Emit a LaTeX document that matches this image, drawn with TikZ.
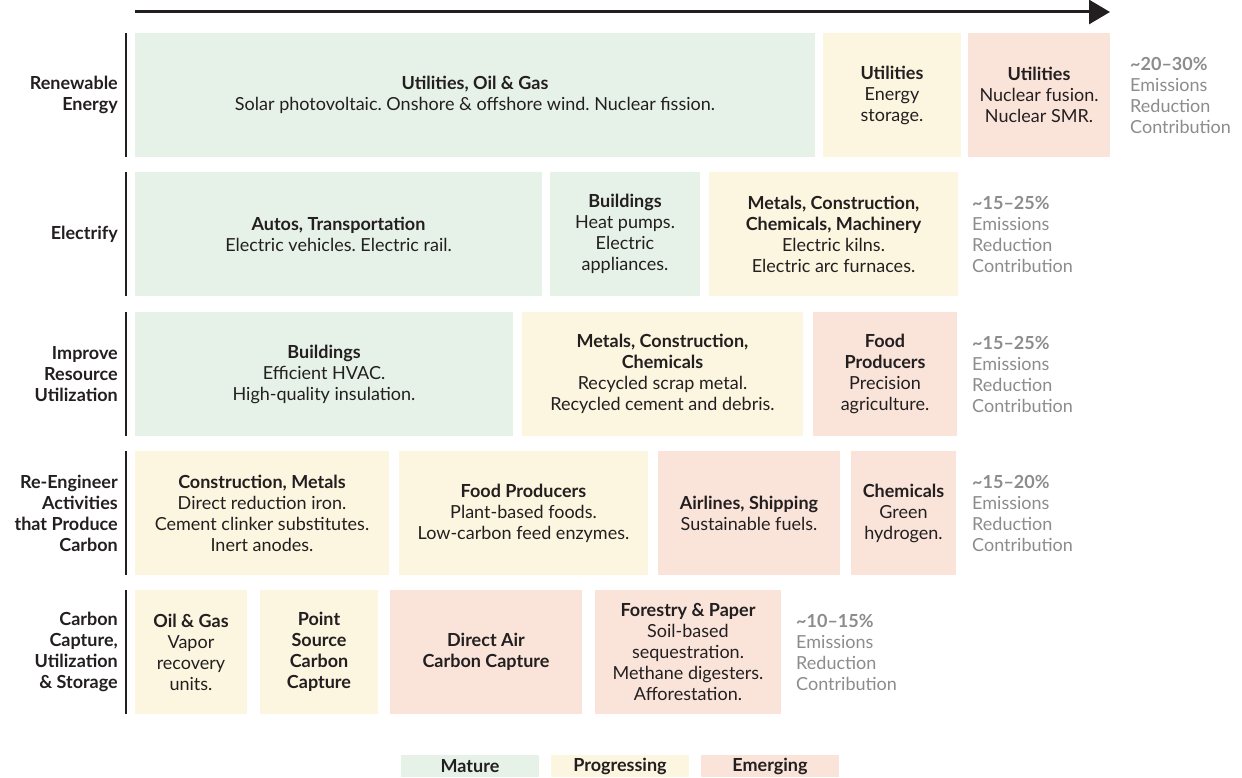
\documentclass[tikz,border=0pt]{standalone}
\usepackage{fontspec}
\setmainfont{Lato}
\frenchspacing
\usetikzlibrary{positioning,arrows.meta}

\definecolor{mature}{HTML}{E6F2E7}
\definecolor{progressing}{HTML}{FCF5DF}
\definecolor{emerging}{HTML}{FAE4DA}
\definecolor{ink}{HTML}{231F20}
\definecolor{muted}{HTML}{8C8C8C}

\begin{document}
\begin{tikzpicture}[x=1pt, y=-1pt,
		cell/.style={rectangle, minimum height=124pt, inner sep=0pt, outer sep=0pt, align=center, text=ink, font=\fontsize{18}{21}\selectfont},
		mat/.style={cell, fill=mature},
		pro/.style={cell, fill=progressing},
		emg/.style={cell, fill=emerging},
		rowlabel/.style={rectangle, inner sep=0pt, align=right, text=ink, font=\bfseries\fontsize{18}{21}\selectfont},
		share/.style={rectangle, inner sep=0pt, align=left, text=muted, font=\fontsize{18}{21}\selectfont},
		bar/.style={draw=ink, line width=2.6pt},
		key/.style={rectangle, minimum width=138pt, minimum height=22pt, inner sep=0pt, outer sep=0pt, text=ink, font=\bfseries\fontsize{18}{21}\selectfont}
	]
	\useasboundingbox (0,0) rectangle (1242,778);

	% timeline arrow
	\coordinate (tstart) at (135,12);
	\coordinate (tend) at (1110,12);
	\draw[draw=ink, line width=3pt, -{Triangle[length=21pt,width=24pt]}] (tstart) -- (tend);

	% renewable energy
	\node[mat, minimum width=680pt, anchor=north west] (ren1) at (135,33) {\textbf{Utilities, Oil \& Gas}\\Solar photovoltaic. Onshore \& offshore wind. Nuclear fission.};
	\node[pro, minimum width=138pt] (ren2) [right=8pt of ren1] {\textbf{Utilities}\\Energy\\storage.};
	\node[emg, minimum width=142pt] (ren3) [right=7pt of ren2] {\textbf{Utilities}\\Nuclear fusion.\\Nuclear SMR.};
	\node[rowlabel] (lren) [left=17pt of ren1] {Renewable\\Energy};
	\node[share] (sren) [right=20pt of ren3] {\textbf{\textasciitilde20--30\%}\\Emissions\\Reduction\\Contribution};

	% electrify
	\node[mat, minimum width=407pt, anchor=north west] (ele1) at (135,172) {\textbf{Autos, Transportation}\\Electric vehicles. Electric rail.};
	\node[mat, minimum width=150pt] (ele2) [right=8pt of ele1] {\textbf{Buildings}\\Heat pumps.\\Electric\\appliances.};
	\node[pro, minimum width=249pt] (ele3) [right=9pt of ele2] {\textbf{Metals, Construction,}\\\textbf{Chemicals, Machinery}\\Electric kilns.\\Electric arc furnaces.};
	\node[rowlabel] (lele) [left=17pt of ele1] {Electrify};
	\node[share] (sele) [right=14pt of ele3] {\textbf{\textasciitilde15--25\%}\\Emissions\\Reduction\\Contribution};

	% improve resource utilization
	\node[mat, minimum width=378pt, anchor=north west] (imp1) at (135,312) {\textbf{Buildings}\\Efficient HVAC.\\High-quality insulation.};
	\node[pro, minimum width=281pt] (imp2) [right=9pt of imp1] {\textbf{Metals, Construction,}\\\textbf{Chemicals}\\Recycled scrap metal.\\Recycled cement and debris.};
	\node[emg, minimum width=144pt] (imp3) [right=10pt of imp2] {\textbf{Food}\\\textbf{Producers}\\Precision\\agriculture.};
	\node[rowlabel] (limp) [left=17pt of imp1] {Improve\\Resource\\Utilization};
	\node[share] (simp) [right=15pt of imp3] {\textbf{\textasciitilde15--25\%}\\Emissions\\Reduction\\Contribution};

	% re-engineer activities
	\node[pro, minimum width=254pt, anchor=north west] (reg1) at (135,451) {\textbf{Construction, Metals}\\Direct reduction iron.\\Cement clinker substitutes.\\Inert anodes.};
	\node[pro, minimum width=249pt] (reg2) [right=10pt of reg1] {\textbf{Food Producers}\\Plant-based foods.\\Low-carbon feed enzymes.};
	\node[emg, minimum width=182pt] (reg3) [right=10pt of reg2] {\textbf{Airlines, Shipping}\\Sustainable fuels.};
	\node[emg, minimum width=105pt] (reg4) [right=11pt of reg3] {\textbf{Chemicals}\\Green\\hydrogen.};
	\node[rowlabel] (lreg) [left=17pt of reg1] {Re-Engineer\\Activities\\that Produce\\Carbon};
	\node[share] (sreg) [right=16pt of reg4] {\textbf{\textasciitilde15--20\%}\\Emissions\\Reduction\\Contribution};

	% carbon capture
	\node[pro, minimum width=112pt, anchor=north west] (ccs1) at (135,590) {\textbf{Oil \& Gas}\\Vapor\\recovery\\units.};
	\node[pro, minimum width=118pt] (ccs2) [right=13pt of ccs1] {\textbf{Point}\\\textbf{Source}\\\textbf{Carbon}\\\textbf{Capture}};
	\node[emg, minimum width=192pt] (ccs3) [right=12pt of ccs2] {\textbf{Direct Air}\\\textbf{Carbon Capture}};
	\node[emg, minimum width=186pt] (ccs4) [right=13pt of ccs3] {\textbf{Forestry \& Paper}\\Soil-based\\sequestration.\\Methane digesters.\\Afforestation.};
	\node[rowlabel] (lccs) [left=17pt of ccs1] {Carbon\\Capture,\\Utilization\\\& Storage};
	\node[share] (sccs) [right=15pt of ccs4] {\textbf{\textasciitilde10--15\%}\\Emissions\\Reduction\\Contribution};

	% row bars
	\foreach \r in {ren1,ele1,imp1,reg1,ccs1}
		\draw[bar] ([xshift=-9pt]\r.north west) -- ([xshift=-9pt]\r.south west);

	% legend
	\node[key, fill=mature, anchor=north west] (kmat) at (401,755) {Mature};
	\node[key, fill=progressing] (kpro) [right=12pt of kmat] {Progressing};
	\node[key, fill=emerging] (kemg) [right=12pt of kpro] {Emerging};
\end{tikzpicture}
\end{document}
